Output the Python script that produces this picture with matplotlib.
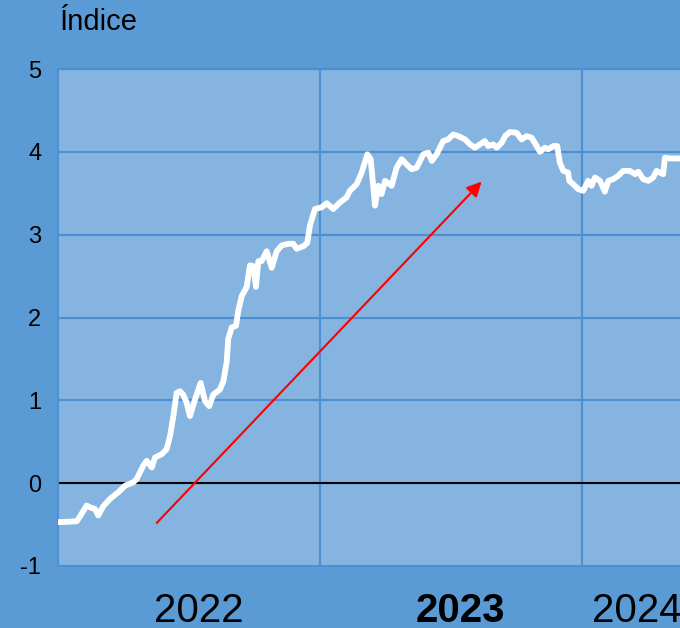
import numpy as np
import matplotlib.pyplot as plt

# months since Jan 2022 and index values
months = [0.00, 0.17, 0.86, 1.01, 1.31, 1.54, 1.69, 1.84, 2.07, 2.38, 2.76, 3.07,
          3.45, 3.60, 3.90, 4.06, 4.29, 4.44, 4.75, 4.97, 5.13, 5.28, 5.43, 5.58,
          5.73, 5.89, 6.04, 6.27, 6.53, 6.73, 6.92, 7.11, 7.41, 7.57, 7.72, 7.79,
          7.95, 8.15, 8.25, 8.41, 8.64, 8.71, 8.79, 8.94, 9.06, 9.17, 9.32, 9.55,
          9.78, 10.01, 10.24, 10.54, 10.77, 10.92, 11.23, 11.41, 11.53, 11.76,
          12.07, 12.30, 12.60, 12.91, 13.21, 13.36, 13.67, 13.90, 14.16, 14.31,
          14.40, 14.51, 14.66, 14.81, 14.97, 15.27, 15.50, 15.73, 16.03, 16.19,
          16.42, 16.72, 16.95, 17.11, 17.33, 17.48, 17.63, 17.86, 18.09, 18.32,
          18.63, 18.86, 19.08, 19.31, 19.54, 19.69, 19.92, 20.08, 20.31, 20.46,
          20.69, 20.99, 21.22, 21.45, 21.68, 21.91, 22.06, 22.29, 22.44, 22.67,
          22.85, 22.97, 23.13, 23.35, 23.40, 23.58, 23.81, 24.04, 24.27, 24.42,
          24.58, 24.81, 25.03, 25.19, 25.41, 25.64, 25.87, 26.18, 26.41, 26.56,
          26.79, 27.02, 27.24, 27.40, 27.55, 27.70, 27.78, 28.01, 28.47]
indice = [-0.47, -0.47, -0.46, -0.40, -0.27, -0.30, -0.31, -0.39, -0.28, -0.19,
          -0.11, -0.03, 0.01, 0.05, 0.21, 0.27, 0.19, 0.31, 0.35, 0.41, 0.57, 0.81,
          1.09, 1.11, 1.07, 0.97, 0.81, 1.01, 1.21, 0.99, 0.93, 1.07, 1.13, 1.23,
          1.46, 1.74, 1.88, 1.90, 2.08, 2.26, 2.37, 2.50, 2.63, 2.62, 2.37, 2.68,
          2.68, 2.80, 2.60, 2.80, 2.87, 2.89, 2.89, 2.83, 2.86, 2.90, 3.11, 3.31,
          3.33, 3.38, 3.31, 3.39, 3.45, 3.53, 3.61, 3.75, 3.97, 3.91, 3.67, 3.35,
          3.59, 3.49, 3.65, 3.59, 3.81, 3.91, 3.83, 3.79, 3.81, 3.97, 3.99, 3.89,
          3.97, 4.05, 4.13, 4.15, 4.21, 4.19, 4.15, 4.09, 4.05, 4.09, 4.13, 4.07,
          4.09, 4.05, 4.11, 4.19, 4.24, 4.23, 4.15, 4.19, 4.17, 4.07, 4.00, 4.05,
          4.03, 4.07, 4.07, 3.87, 3.77, 3.75, 3.65, 3.61, 3.55, 3.53, 3.65, 3.59,
          3.69, 3.65, 3.52, 3.65, 3.67, 3.71, 3.77, 3.77, 3.73, 3.76, 3.67, 3.65,
          3.69, 3.77, 3.75, 3.73, 3.93, 3.92, 3.92]

year_pos = [6.45, 18.4, 26.5]
year_labels = ['2022', '2023', '2024']
year_breaks = [12, 24]
arrow_start = (4.52, -0.48)
arrow_end = (19.39, 3.64)

outer = '#5b9bd5'
inner = '#84b4df'
grid = '#4d8fd4'

plt.rcParams['font.family'] = ['Liberation Sans', 'DejaVu Sans']

fig = plt.figure(figsize=(6.8, 6.28), dpi=100, facecolor=outer)
ax = fig.add_axes([58 / 680, 62 / 628, 640 / 680, 497 / 628])
ax.set_facecolor(inner)

ax.set_xlim(0, 28.47 * 640 / 622)
ax.set_ylim(-1, 5)
ax.set_yticks(range(-1, 6))
ax.set_yticklabels([str(v) for v in range(-1, 6)], fontsize=17)
ax.set_xticks(year_pos)
ax.set_xticklabels(year_labels, fontsize=29)
ax.get_xticklabels()[1].set_fontweight('bold')
ax.tick_params(length=0)
ax.tick_params(axis='y', pad=12)
ax.tick_params(axis='x', pad=19)

ax.grid(axis='y', color=grid, lw=1.5)
for xb in year_breaks:
    ax.axvline(xb, color=grid, lw=1.5, zorder=0.5)
for s in ['top', 'bottom', 'left']:
    ax.spines[s].set_color(grid)
    ax.spines[s].set_linewidth(1.5)
ax.spines['right'].set_visible(False)

ax.axhline(0, color='black', lw=1.5, zorder=2)
ax.plot(months, indice, color='white', lw=4.2, solid_joinstyle='round',
        solid_capstyle='round', zorder=3)

ax.annotate('', xy=arrow_end, xytext=arrow_start,
            arrowprops=dict(arrowstyle='-|>', color='red', lw=1.5,
                            mutation_scale=22, shrinkA=0, shrinkB=0),
            zorder=4)

fig.text(60 / 680, 1 - 22 / 628, 'Índice', fontsize=21, va='center', ha='left')

fig.savefig('out.png', dpi=100, facecolor=outer)
